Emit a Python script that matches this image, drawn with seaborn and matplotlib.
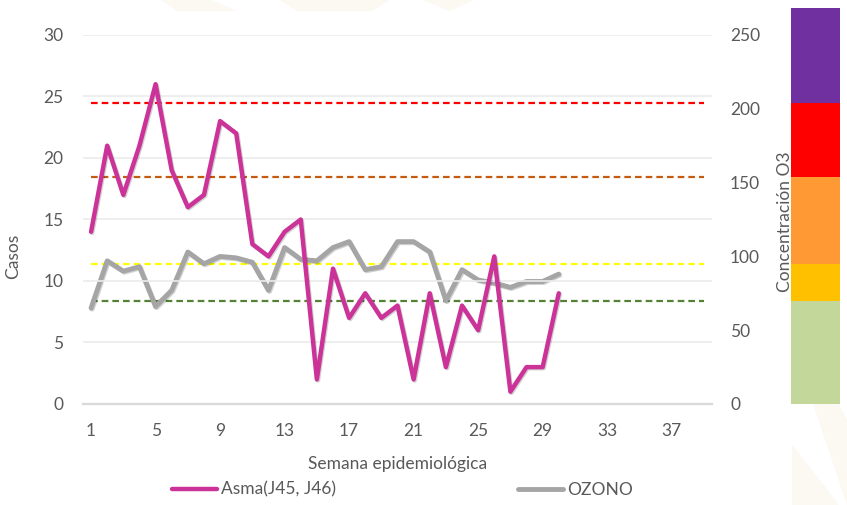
import matplotlib
matplotlib.use("Agg")
import matplotlib.pyplot as plt
import matplotlib.transforms as mtransforms
import matplotlib.patheffects as pe
from matplotlib.patches import Rectangle, Polygon
from matplotlib.lines import Line2D
import seaborn as sns
import pandas as pd

# ---------------- data ----------------
weeks = list(range(1, 31))
asma = [14, 21, 17, 21, 26, 19, 16, 17, 23, 22, 13, 12, 14, 15, 2,
        11, 7, 9, 7, 8, 2, 9, 3, 8, 6, 12, 1, 3, 3, 9]
ozono = [65, 97, 90, 93, 66, 77, 103, 95, 100, 99, 96, 77, 106, 98, 97,
         106, 110, 91, 93, 110, 110, 103, 70, 91, 84, 82, 79, 83, 83, 88]
all_weeks = list(range(1, 40))
threshold_values = [204, 154, 95, 70]
threshold_colors = ["#FF0000", "#C55A11", "#FFFF00", "#548235"]
band_edges = [0, 70, 95, 154, 204, 268]
band_colors = ["#C4D79B", "#FFC000", "#FF9933", "#FF0000", "#7030A0"]
xticks = [1, 5, 9, 13, 17, 21, 25, 29, 33, 37]
label_asma = "Asma(J45, J46)"
label_oz = "OZONO"

df = pd.DataFrame({"semana": weeks, "asma": asma, "ozono": ozono})

# ---------------- style ----------------
sns.set_theme(style="white")
plt.rcParams["font.family"] = ["Lato", "DejaVu Sans"]
txt = "#595959"

fig = plt.figure(figsize=(8.47, 5.05), dpi=100)
fig.patch.set_facecolor("white")

# faint watermark shapes
wm = "#FBF4EA"
for pts in [[(0.19, 1.0), (0.25, 1.0), (0.28, 0.978), (0.21, 0.978)],
            [(0.33, 1.0), (0.46, 1.0), (0.44, 0.978), (0.35, 0.978)],
            [(0.5, 1.0), (0.56, 1.0), (0.53, 0.978)],
            [(0.935, 0.12), (0.935, 0.0), (0.99, 0.0)],
            [(0.96, 0.2), (0.99, 0.2), (1.0, 0.17), (1.0, 0.0)]]:
    fig.patches.append(Polygon(pts, closed=True, transform=fig.transFigure,
                               facecolor=wm, edgecolor="none", alpha=0.6, zorder=0))

ax = fig.add_axes([0.098, 0.2, 0.7426, 0.7307])
ax.set_facecolor("none")
ax2 = ax.twinx()

# gridlines (left axis)
ax.set_ylim(0, 30)
ax.set_yticks(range(0, 31, 5))
ax.yaxis.grid(True, color="#EBEBEB", linewidth=1.2)
ax.set_axisbelow(True)
ax.set_xlim(0.5, 39.5)
ax.set_xticks(xticks)

# threshold dashed lines on secondary axis
ax2.set_ylim(0, 250)
ax2.set_yticks(range(0, 251, 50))
for v, c in zip(threshold_values, threshold_colors):
    ax2.plot(all_weeks, [v] * len(all_weeks), color=c, linewidth=1.6,
             linestyle=(0, (3, 1.8)), zorder=2)

shadow = [pe.SimpleLineShadow(offset=(0.8, -0.8), alpha=0.18, shadow_color="black"), pe.Normal()]

sns.lineplot(data=df, x="semana", y="ozono", ax=ax2, color="#A5A5A5",
             linewidth=3.5, zorder=3, path_effects=shadow, legend=False)
sns.lineplot(data=df, x="semana", y="asma", ax=ax, color="#CC3399",
             linewidth=3.2, zorder=4, path_effects=shadow, legend=False)
ax.set_zorder(ax2.get_zorder() + 1)

# spines
for a in (ax, ax2):
    for s in a.spines.values():
        s.set_visible(False)
ax.spines["bottom"].set_visible(True)
ax.spines["bottom"].set_color("#D9D9D9")
ax.spines["bottom"].set_linewidth(1.6)

ax.tick_params(axis="both", length=0, labelsize=12.5, labelcolor=txt)
ax.tick_params(axis="y", pad=14)
ax.tick_params(axis="x", pad=14)
ax2.tick_params(axis="y", length=0, labelsize=12.5, labelcolor=txt, pad=13)

ax.set_xlabel("Semana epidemiológica", fontsize=12.5, color=txt, labelpad=12)
ax.set_ylabel("Casos", fontsize=12.5, color=txt)
ax.yaxis.set_label_coords(-0.098, 0.40)
ax2.set_ylabel("Concentración O3", fontsize=12.5, color=txt)
ax2.yaxis.set_label_coords(1.103, 0.493)

# colour bands at right (x in figure coords, y in ozone data)
trans = mtransforms.blended_transform_factory(fig.transFigure, ax2.transData)
for lo, hi, c in zip(band_edges[:-1], band_edges[1:], band_colors):
    ax2.add_patch(Rectangle((0.934, lo), 0.058, hi - lo, transform=trans,
                            facecolor=c, edgecolor="none", clip_on=False, zorder=1))

# legend
h1 = Line2D([], [], color="#CC3399", linewidth=3.2)
h2 = Line2D([], [], color="#A5A5A5", linewidth=3.5)
leg = fig.legend([h1, h2], [label_asma, label_oz], loc="center",
                 bbox_to_anchor=(0.475, 0.03), ncol=2, frameon=False,
                 fontsize=12.5, handlelength=2.6, handletextpad=0.2,
                 columnspacing=10.5)
for t in leg.get_texts():
    t.set_color(txt)

fig.savefig("out.png", dpi=100)
